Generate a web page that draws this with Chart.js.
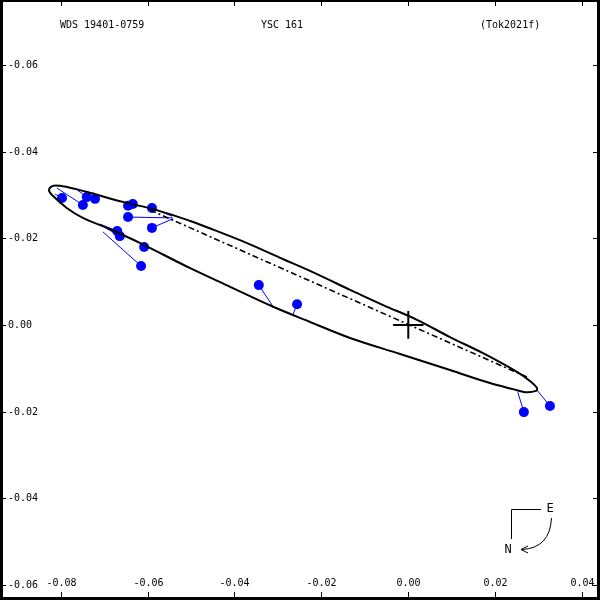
<!DOCTYPE html>
<html lang="en">
<head>
  <meta charset="UTF-8">
  <title>WDS 19401-0759 orbit</title>
  <script src="https://cdn.jsdelivr.net/npm/chart.js"></script>
  <style>
    body { margin: 0; background: #fff; }
    #orbit { display: block; }
  </style>
</head>
<body>
  <canvas id="orbit" width="600" height="600"></canvas>

  <script>
    // Header texts
    const titleLeft = 'WDS 19401-0759';
    const titleMid = 'YSC 161';
    const titleRight = '(Tok2021f)';

    // Axis ticks and their printed labels (as they appear on the plot)
    const xTickValues = [-0.08, -0.06, -0.04, -0.02, 0.00, 0.02, 0.04];
    const xTickLabels = ['-0.08', '-0.06', '-0.04', '-0.02', '0.00', '0.02', '0.04'];
    const yTickValues = [0.06, 0.04, 0.02, 0.00, -0.02, -0.04, -0.06];
    const yTickLabels = ['-0.06', '-0.04', '-0.02', '0.00', '-0.02', '-0.04', '-0.06'];

    // Orbit ellipse (closed loop, starts on the upper edge)
    const ellipseX = [-0.0134, -0.0058, 0.0020, 0.0096, 0.0172, 0.0250, 0.0280, 0.0296, 0.0294, 0.0269,
                      0.0241, 0.0188, 0.0096, -0.0019, -0.0134, -0.0226, -0.0311, -0.0410, -0.0502, -0.0617,
                      -0.0694, -0.0749, -0.0786, -0.0818, -0.0827, -0.0818, -0.0802, -0.0767, -0.0733, -0.0657,
                      -0.0579, -0.0502, -0.0449, -0.0371, -0.0295, -0.0220, -0.0134];
    const ellipseY = [0.0081, 0.0046, 0.0012, -0.0028, -0.0065, -0.0108, -0.0129, -0.0145, -0.0152, -0.0155,
                      -0.0148, -0.0134, -0.0104, -0.0067, -0.0030, 0.0007, 0.0042, 0.0088, 0.0131, 0.0189,
                      0.0224, 0.0247, 0.0270, 0.0298, 0.0311, 0.0321, 0.0321, 0.0314, 0.0305, 0.0284,
                      0.0265, 0.0240, 0.0220, 0.0189, 0.0155, 0.0122, 0.0081];

    // Line of nodes (dash-dot)
    const nodeX = [-0.0594, 0.0273];
    const nodeY = [0.0265, -0.0120];

    // Primary star cross
    const crossX = [-0.0035, 0.0035];
    const crossY = [0.0032, -0.0032];

    // Measurements and their computed positions on the orbit
    const obsX = [-0.0797, -0.0749, -0.0740, -0.0721, -0.0645, -0.0634, -0.0645, -0.0590, -0.0590,
                  -0.0670, -0.0664, -0.0608, -0.0615, -0.0344, -0.0256, 0.0266, 0.0326];
    const obsY = [0.0293, 0.0277, 0.0295, 0.0291, 0.0275, 0.0279, 0.0249, 0.0270, 0.0224,
                  0.0217, 0.0205, 0.0180, 0.0136, 0.0092, 0.0048, -0.0201, -0.0187];
    const fitX = [-0.0813, -0.0809, -0.0765, -0.0726, -0.0650, -0.0638, -0.0542, -0.0544, -0.0542,
                  -0.0710, -0.0703, -0.0615, -0.0703, -0.0311, -0.0265, 0.0252, 0.0296];
    const fitY = [0.0302, 0.0316, 0.0314, 0.0307, 0.0284, 0.0281, 0.0247, 0.0251, 0.0245,
                  0.0233, 0.0228, 0.0182, 0.0215, 0.0042, 0.0025, -0.0155, -0.0150];

    const toPoints = (xs, ys) => xs.map((x, i) => ({ x: x, y: ys[i] }));

    const datasets = [
      {
        data: toPoints(ellipseX, ellipseY),
        showLine: true,
        borderColor: '#000',
        borderWidth: 2,
        pointRadius: 0,
        tension: 0.35,
        order: 0
      },
      {
        data: toPoints(nodeX, nodeY),
        showLine: true,
        borderColor: '#000',
        borderWidth: 1.6,
        borderDash: [6, 3, 2, 3],
        pointRadius: 0,
        order: 1
      },
      {
        data: toPoints(crossX, [0, 0]),
        showLine: true,
        borderColor: '#000',
        borderWidth: 2,
        pointRadius: 0,
        order: 1
      },
      {
        data: toPoints([0, 0], crossY),
        showLine: true,
        borderColor: '#000',
        borderWidth: 2,
        pointRadius: 0,
        order: 1
      },
      {
        data: toPoints(obsX, obsY),
        showLine: false,
        pointRadius: 5,
        pointBackgroundColor: '#0000ff',
        pointBorderColor: '#0000ff',
        pointBorderWidth: 0,
        order: 2
      }
    ];

    // one small segment per residual
    obsX.forEach((x, i) => {
      datasets.push({
        data: [{ x: x, y: obsY[i] }, { x: fitX[i], y: fitY[i] }],
        showLine: true,
        borderColor: '#0000ff',
        borderWidth: 1,
        pointRadius: 0,
        order: 3
      });
    });

    // Frame, ticks, labels, header and compass
    const decorations = {
      id: 'decorations',
      afterDraw(chart) {
        const ctx = chart.ctx;
        const xs = chart.scales.x;
        const ys = chart.scales.y;
        const W = chart.width, H = chart.height;
        ctx.save();
        ctx.fillStyle = '#000';
        ctx.strokeStyle = '#000';

        // border
        ctx.fillRect(0, 0, 3, H);
        ctx.fillRect(0, 0, W, 2);
        ctx.fillRect(W - 3, 0, 3, H);
        ctx.fillRect(0, H - 3, W, 3);

        ctx.lineWidth = 1;
        ctx.font = '10px "DejaVu Sans Mono"';
        ctx.textBaseline = 'middle';

        xTickValues.forEach((v, i) => {
          const px = Math.round(xs.getPixelForValue(v)) + 0.5;
          ctx.beginPath();
          ctx.moveTo(px, 0); ctx.lineTo(px, 6);
          ctx.moveTo(px, H - 8); ctx.lineTo(px, H);
          ctx.stroke();
          ctx.textAlign = 'center';
          ctx.fillText(xTickLabels[i], px, 583);
        });

        yTickValues.forEach((v, i) => {
          const py = Math.round(ys.getPixelForValue(v)) + 0.5;
          ctx.beginPath();
          ctx.moveTo(0, py); ctx.lineTo(6, py);
          ctx.moveTo(W - 7, py); ctx.lineTo(W, py);
          ctx.stroke();
          ctx.textAlign = 'left';
          ctx.fillText(yTickLabels[i], 8, py);
        });

        // header
        ctx.textAlign = 'left';
        ctx.fillText(titleLeft, 60, 25);
        ctx.fillText(titleMid, 261, 25);
        ctx.fillText(titleRight, 480, 25);

        // compass
        ctx.beginPath();
        ctx.moveTo(541, 509.5); ctx.lineTo(511.5, 509.5); ctx.lineTo(511.5, 539);
        ctx.stroke();
        ctx.beginPath();
        ctx.moveTo(551.5, 518);
        ctx.quadraticCurveTo(550, 548, 522, 549.5);
        ctx.stroke();
        ctx.beginPath();
        ctx.moveTo(528, 546); ctx.lineTo(521, 549.5); ctx.lineTo(528, 553);
        ctx.stroke();
        ctx.font = '12px "DejaVu Sans Mono"';
        ctx.textAlign = 'center';
        ctx.fillText('E', 550, 509);
        ctx.fillText('N', 508, 550);
        ctx.restore();
      }
    };

    new Chart(document.getElementById('orbit'), {
      type: 'scatter',
      data: { datasets: datasets },
      options: {
        responsive: false,
        animation: false,
        layout: { padding: 0, autoPadding: false },
        plugins: {
          legend: { display: false },
          tooltip: { enabled: false }
        },
        scales: {
          x: { type: 'linear', min: -0.09397, max: 0.04412, display: false },
          y: { type: 'linear', min: -0.06344, max: 0.07497, display: false }
        }
      },
      plugins: [decorations]
    });
  </script>
</body>
</html>
